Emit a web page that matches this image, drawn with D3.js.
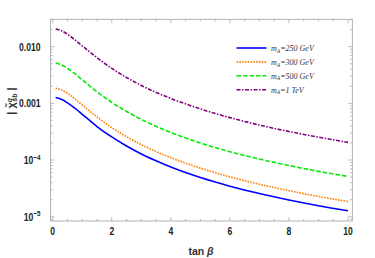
<!DOCTYPE html>
<html>
<head>
<meta charset="utf-8">
<script src="https://cdn.jsdelivr.net/npm/d3@7"></script>
<style>
  body { margin: 0; background: #fff; }
  svg { display: block; }
</style>
</head>
<body>
<div id="chart"></div>
<script>
// tan beta sample points and |chi| values
const tanBeta = [0.1, 0.25, 0.5, 0.75, 1, 1.25, 1.5, 2, 2.5, 3, 3.5, 4, 5, 6, 7, 8, 9, 10];
const chi250 = [1.27e-3, 1.20e-3, 1.02e-3, 8.2e-4, 6.4e-4, 5.0e-4, 3.9e-4, 2.56e-4, 1.77e-4, 1.28e-4, 9.7e-5, 7.5e-5, 4.9e-5, 3.46e-5, 2.56e-5, 1.97e-5, 1.56e-5, 1.27e-5];
const chi300 = [1.85e-3, 1.76e-3, 1.50e-3, 1.20e-3, 9.35e-4, 7.3e-4, 5.75e-4, 3.74e-4, 2.58e-4, 1.87e-4, 1.41e-4, 1.10e-4, 7.2e-5, 5.05e-5, 3.74e-5, 2.88e-5, 2.28e-5, 1.85e-5];
const chi500 = [5.15e-3, 4.89e-3, 4.16e-3, 3.33e-3, 2.60e-3, 2.03e-3, 1.60e-3, 1.04e-3, 7.2e-4, 5.2e-4, 3.93e-4, 3.06e-4, 2.0e-4, 1.40e-4, 1.04e-4, 8.0e-5, 6.3e-5, 5.15e-5];
const chi1000 = [2.05e-2, 1.95e-2, 1.66e-2, 1.32e-2, 1.035e-2, 8.1e-3, 6.4e-3, 4.14e-3, 2.86e-3, 2.07e-3, 1.56e-3, 1.22e-3, 7.97e-4, 5.6e-4, 4.14e-4, 3.19e-4, 2.53e-4, 2.05e-4];

const seriesNames = ["250 GeV", "300 GeV", "500 GeV", "1 TeV"];
const xTicks = [0, 2, 4, 6, 8, 10];
const yTicks = [0.01, 0.001, 1e-4, 1e-5];
const yLabels = ["0.010", "0.001", "10", "10"];
const yExp = ["", "", "\u22124", "\u22125"];

const width = 375, height = 258;
const plotLeft = 50.5, plotRight = 352.3, plotTop = 19.3, plotBottom = 221;

const svg = d3.select("#chart").append("svg")
    .attr("width", width)
    .attr("height", height);

const xScale = d3.scaleLinear().domain([-0.075, 10.145]).range([plotLeft, plotRight]);
const yScale = d3.scaleLog().domain([8.4e-6, 0.0304]).range([plotBottom, plotTop]);

const tickFont = "'Liberation Sans', Arial, sans-serif";
const frameColor = "#a0a0a0";
const squeeze = 0.78; // tick labels in the original are narrow

// frame
svg.append("rect")
    .attr("x", plotLeft).attr("y", plotTop)
    .attr("width", plotRight - plotLeft).attr("height", plotBottom - plotTop)
    .attr("fill", "none")
    .attr("stroke", frameColor)
    .attr("stroke-width", 0.8);

// x ticks (major every 2, minor every 0.5), on top and bottom
const xMinor = d3.range(0, 10.01, 0.5);
xMinor.forEach(function(v) {
    const major = xTicks.indexOf(v) >= 0;
    const len = major ? 4 : 2.2;
    const x = xScale(v);
    svg.append("line").attr("x1", x).attr("x2", x)
        .attr("y1", plotBottom).attr("y2", plotBottom - len)
        .attr("stroke", frameColor).attr("stroke-width", 0.7);
    svg.append("line").attr("x1", x).attr("x2", x)
        .attr("y1", plotTop).attr("y2", plotTop + len)
        .attr("stroke", frameColor).attr("stroke-width", 0.7);
});

svg.selectAll(".xlab")
    .data(xTicks).enter()
    .append("text")
    .attr("transform", d => "translate(" + xScale(d) + ",234.5) scale(" + squeeze + ",1)")
    .attr("text-anchor", "middle")
    .style("font-family", tickFont)
    .style("font-weight", "bold")
    .style("font-size", "11px")
    .style("fill", "#222")
    .text(d => d);

// y ticks: decades major, 2..9 minor, on left and right
const yMinor = [];
[1e-6, 1e-5, 1e-4, 1e-3, 1e-2].forEach(function(dec) {
    for (let k = 1; k <= 9; k++) {
        const v = dec * k;
        if (v >= 8.4e-6 && v <= 0.0304) yMinor.push({v: v, major: k === 1});
    }
});
yMinor.forEach(function(d) {
    const y = yScale(d.v);
    const len = d.major ? 4 : 2.2;
    svg.append("line").attr("x1", plotLeft).attr("x2", plotLeft + len)
        .attr("y1", y).attr("y2", y)
        .attr("stroke", frameColor).attr("stroke-width", 0.7);
    svg.append("line").attr("x1", plotRight).attr("x2", plotRight - len)
        .attr("y1", y).attr("y2", y)
        .attr("stroke", frameColor).attr("stroke-width", 0.7);
});

yTicks.forEach(function(v, i) {
    const t = svg.append("text")
        .attr("transform", "translate(40.5," + (yScale(v) + 4) + ") scale(" + squeeze + ",1)")
        .attr("text-anchor", "end")
        .style("font-family", tickFont)
        .style("font-weight", "bold")
        .style("font-size", "11px")
        .style("fill", "#222");
    t.append("tspan").text(yLabels[i]);
    if (yExp[i]) {
        t.append("tspan").attr("dy", -4.5).style("font-size", "8px").text(yExp[i]);
    }
});

// axis titles
const xTitle = svg.append("text")
    .attr("x", 201)
    .attr("y", 254.5)
    .attr("text-anchor", "middle")
    .style("font-family", tickFont)
    .style("font-weight", "bold")
    .style("font-size", "10.5px")
    .style("fill", "#333");
xTitle.append("tspan").text("tan ");
xTitle.append("tspan").style("font-style", "italic").text("\u03b2");

const yTitle = svg.append("text")
    .attr("transform", "translate(15,101) rotate(-90)")
    .attr("text-anchor", "middle")
    .style("font-family", tickFont)
    .style("font-weight", "bold")
    .style("font-size", "11px")
    .style("fill", "#333");
yTitle.append("tspan").text("| ");
yTitle.append("tspan").text("\u03c7\u0303");
yTitle.append("tspan").attr("dy", -3.5).attr("font-size", "7px").style("font-style", "italic").text("q");
yTitle.append("tspan").attr("dx", -3.8).attr("dy", 5.5).attr("font-size", "7px").text("sb");
yTitle.append("tspan").attr("dy", -2).text(" |");

// curves
const series = [
    {values: chi250, color: "#0000ff", dash: null},
    {values: chi300, color: "#ff8000", dash: "1.6,1.2"},
    {values: chi500, color: "#00ee00", dash: "4.5,2"},
    {values: chi1000, color: "#800080", dash: "4,1.5,1.5,1.5"}
];

const line = d3.line()
    .x(d => xScale(d[0]))
    .y(d => yScale(d[1]))
    .curve(d3.curveMonotoneX);

series.forEach(function(s) {
    const path = svg.append("path")
        .datum(tanBeta.map((t, i) => [t, s.values[i]]))
        .attr("fill", "none")
        .attr("stroke", s.color)
        .attr("stroke-width", 1.6)
        .attr("d", line);
    if (s.dash) path.attr("stroke-dasharray", s.dash);
});

// legend
series.forEach(function(s, i) {
    const y = 48 + i * 13.9;
    const l = svg.append("line")
        .attr("x1", 236.5).attr("x2", 266.5)
        .attr("y1", y).attr("y2", y)
        .attr("stroke", s.color)
        .attr("stroke-width", 1.6);
    if (s.dash) l.attr("stroke-dasharray", s.dash);
    const t = svg.append("text")
        .attr("x", 271)
        .attr("y", y + 2.8)
        .style("font-family", "'Liberation Serif', 'Times New Roman', serif")
        .style("font-style", "italic")
        .style("font-size", "8px")
        .style("fill", "#333");
    t.append("tspan").text("m");
    t.append("tspan").attr("dy", 1.8).style("font-size", "5.5px").text("A");
    t.append("tspan").attr("dy", -1.8).text("=" + seriesNames[i]);
});
</script>
</body>
</html>
